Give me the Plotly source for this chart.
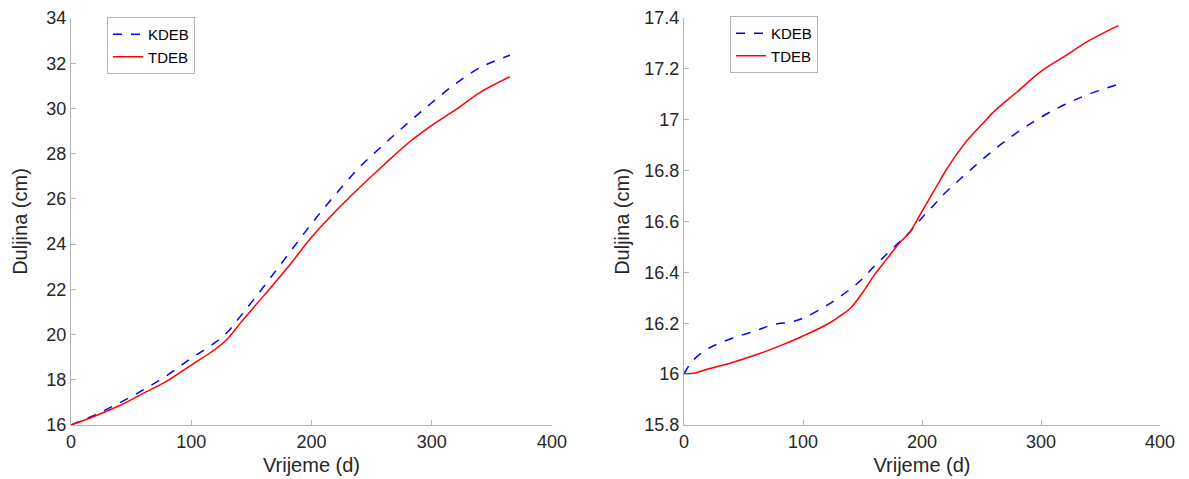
import plotly.graph_objects as go

# ---- data ----
t_left = [0, 20, 40, 60, 80, 100, 120, 130, 140, 160, 180, 200, 220, 240, 260, 280, 300, 320, 340, 365]
kdeb_left = [16.0, 16.45, 16.97, 17.55, 18.2, 18.95, 19.65, 20.1, 20.75, 22.1, 23.5, 24.9, 26.2,
             27.4, 28.4, 29.35, 30.25, 31.1, 31.8, 32.35]
tdeb_left = [16.0, 16.4, 16.85, 17.4, 17.95, 18.65, 19.35, 19.8, 20.45, 21.7, 22.95, 24.3, 25.45,
             26.5, 27.5, 28.45, 29.25, 29.95, 30.7, 31.4]

t_right_k = [0, 5, 10, 20, 40, 60, 75, 90, 100, 120, 140, 150, 160, 170, 180, 190, 200, 210, 220,
             240, 260, 280, 300, 320, 340, 365]
kdeb_right = [16.0, 16.04, 16.065, 16.1, 16.14, 16.17, 16.195, 16.205, 16.22, 16.27, 16.335, 16.375,
              16.425, 16.47, 16.515, 16.56, 16.615, 16.665, 16.715, 16.8, 16.88, 16.95, 17.01, 17.06,
              17.1, 17.14]
t_right_t = [0, 10, 20, 40, 60, 80, 100, 120, 130, 140, 150, 160, 170, 180, 190, 200, 210, 220, 230,
             240, 250, 260, 280, 300, 320, 340, 365]
tdeb_right = [16.0, 16.005, 16.02, 16.045, 16.075, 16.11, 16.15, 16.195, 16.225, 16.26, 16.32, 16.39,
              16.45, 16.51, 16.56, 16.64, 16.72, 16.8, 16.87, 16.93, 16.98, 17.03, 17.11, 17.19,
              17.25, 17.31, 17.37]

x_ticks = [0, 100, 200, 300, 400]
y_ticks_left = [16, 18, 20, 22, 24, 26, 28, 30, 32, 34]
y_ticks_right = [15.8, 16.0, 16.2, 16.4, 16.6, 16.8, 17.0, 17.2, 17.4]
y_ticktext_right = ["15.8", "16", "16.2", "16.4", "16.6", "16.8", "17", "17.2", "17.4"]

W, H = 1189, 479
BLUE = "#0000ff"
RED = "#ff0000"
AXC = "#b4b4b4"
TXT = "#262626"
FONT = "Liberation Sans, Arial, sans-serif"

fig = go.Figure()
fig.add_trace(go.Scatter(x=t_left, y=kdeb_left, mode="lines", name="KDEB",
                         line=dict(color=BLUE, width=1.5, dash="dash", shape="spline"),
                         xaxis="x", yaxis="y", legend="legend"))
fig.add_trace(go.Scatter(x=t_left, y=tdeb_left, mode="lines", name="TDEB",
                         line=dict(color=RED, width=1.5, shape="spline"),
                         xaxis="x", yaxis="y", legend="legend"))
fig.add_trace(go.Scatter(x=t_right_k, y=kdeb_right, mode="lines", name="KDEB",
                         line=dict(color=BLUE, width=1.5, dash="dash", shape="spline"),
                         xaxis="x2", yaxis="y2", legend="legend2"))
fig.add_trace(go.Scatter(x=t_right_t, y=tdeb_right, mode="lines", name="TDEB",
                         line=dict(color=RED, width=1.5, shape="spline"),
                         xaxis="x2", yaxis="y2", legend="legend2"))

ydom = [(H - 425) / H, (H - 18) / H]


def xax(dom, anchor):
    return dict(domain=dom, anchor=anchor, range=[0, 400], tickvals=x_ticks, showgrid=False, zeroline=False,
                showline=True, linecolor=AXC, linewidth=1, ticks="inside", ticklen=5, tickcolor=AXC,
                automargin=False, tickfont=dict(size=18, color=TXT, family=FONT),
                title=dict(text="Vrijeme (d)", font=dict(size=20, color=TXT, family=FONT), standoff=7))


def yax(rng, tv, tt, anchor, standoff):
    return dict(domain=ydom, anchor=anchor, range=rng, tickvals=tv, ticktext=tt, showgrid=False, zeroline=False,
                showline=True, linecolor=AXC, linewidth=1, ticks="inside", ticklen=5, tickcolor=AXC,
                automargin=False, tickfont=dict(size=18, color=TXT, family=FONT),
                title=dict(text="Duljina (cm)", font=dict(size=20, color=TXT, family=FONT), standoff=standoff))


legend_common = dict(xanchor="left", yanchor="top", bgcolor="white", bordercolor="#b4b4b4", borderwidth=1,
                     font=dict(size=15, color="#000", family=FONT), tracegroupgap=0, itemwidth=30)

fig.update_layout(
    width=W, height=H,
    margin=dict(l=0, r=0, t=0, b=0, autoexpand=False),
    paper_bgcolor="white", plot_bgcolor="white",
    xaxis=xax([71 / W, 552 / W], "y"),
    yaxis=yax([16, 34], y_ticks_left, [str(v) for v in y_ticks_left], "x", 13),
    xaxis2=xax([684 / W, 1160 / W], "y2"),
    yaxis2=yax([15.8, 17.4], y_ticks_right, y_ticktext_right, "x2", 9),
    legend=dict(x=107 / W, y=1 - 17 / H, **legend_common),
    legend2=dict(x=730 / W, y=1 - 16 / H, **legend_common),
    showlegend=True,
)

fig.write_html("out.html", post_script="document.body.style.margin='0';",
               config={"displayModeBar": False})
